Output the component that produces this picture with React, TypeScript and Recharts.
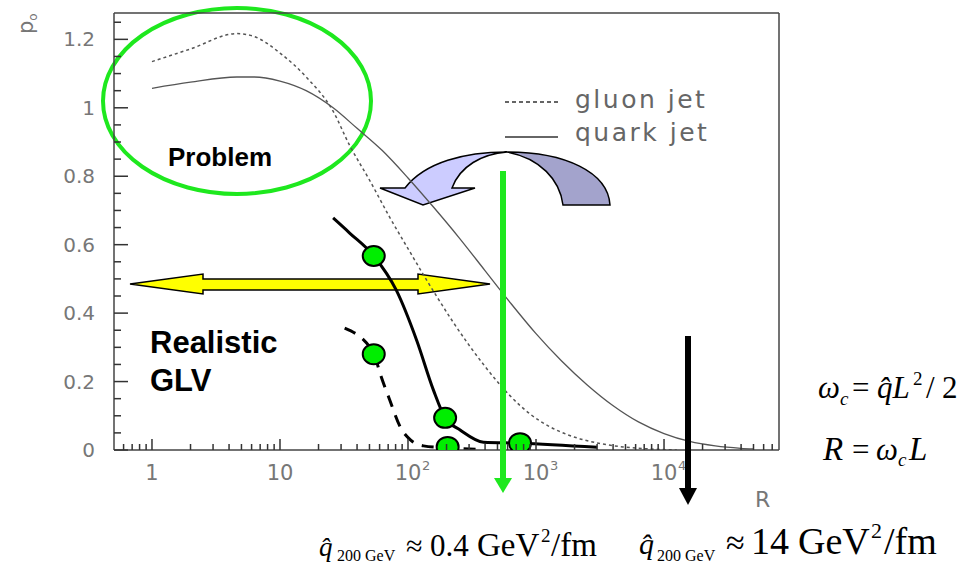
import React from "react";
import {
  ComposedChart,
  Line,
  Scatter,
  XAxis,
  YAxis,
  ReferenceLine,
} from "recharts";

// curves (R on a log axis, p0 on a linear one)
const gluonR = [1, 2, 4.6, 6.3, 10, 16, 26, 35, 50, 72, 105, 138, 170, 224, 295, 398, 525, 750, 1070, 1510, 2190, 3160, 4790, 7760, 12600];
const gluonP = [1.135, 1.172, 1.217, 1.208, 1.16, 1.09, 0.99, 0.89, 0.789, 0.68, 0.575, 0.5, 0.445, 0.375, 0.31, 0.245, 0.19, 0.13, 0.085, 0.055, 0.033, 0.019, 0.009, 0.003, 0];

const quarkR = [1, 2, 4.6, 6.3, 10, 16, 26, 40, 63, 100, 158, 251, 398, 631, 1000, 1585, 2512, 3981, 6310, 10000, 15850, 25120, 39810, 50120];
const quarkP = [1.057, 1.075, 1.09, 1.09, 1.078, 1.05, 1.0, 0.94, 0.875, 0.795, 0.71, 0.62, 0.525, 0.43, 0.34, 0.26, 0.19, 0.13, 0.082, 0.048, 0.025, 0.012, 0.005, 0.003];

const glvR = [26, 35, 54, 81, 117, 158, 195, 257, 389, 750, 3000];
const glvP = [0.678, 0.634, 0.567, 0.467, 0.32, 0.175, 0.094, 0.058, 0.023, 0.02, 0.008];

const glvDashR = [32, 54, 60, 72, 87, 105, 132, 204, 363];
const glvDashP = [0.356, 0.283, 0.228, 0.146, 0.067, 0.029, 0.012, 0.006, 0.002];

const dotR = [54, 195, 750, 54, 204];
const dotP = [0.567, 0.094, 0.02, 0.28, 0.009];

const xMajor = [1, 10, 100, 1000, 10000];
const xMajorLabel = ["1", "10", "10", "10", "10"];
const xMajorExp = ["", "", "2", "3", "4"];
const yMajor = [0, 0.2, 0.4, 0.6, 0.8, 1, 1.2];
const yMajorLabel = ["0", "0.2", "0.4", "0.6", "0.8", "1", "1.2"];

const X_DOMAIN = [0.505, 79100];
const Y_DOMAIN = [0, 1.277];

const zip = (r: number[], p: number[]) => r.map((v, i) => ({ r: v, p: p[i] }));

const gluon = zip(gluonR, gluonP);
const quark = zip(quarkR, quarkP);
const glv = zip(glvR, glvP);
const glvDash = zip(glvDashR, glvDashP);
const dots = zip(dotR, dotP);

const xTicks: number[] = [0.6, 0.7, 0.8, 0.9];
for (const d of [1, 10, 100, 1000, 10000]) {
  for (let m = 1; m <= 9; m++) {
    const v = Number((m * d).toPrecision(2));
    if (v <= 70000) xTicks.push(v);
  }
}
const yTicks: number[] = [];
for (let i = 0; i <= 25; i++) yTicks.push(Number((i * 0.05).toFixed(2)));

const AXIS = "#333";
const LABEL = "#777";
const GREEN = "#1ee81e";
const frameLine = { stroke: "#444", strokeWidth: 1.5 };

function XTick(props: any) {
  const { x, y, payload } = props;
  const i = xMajor.indexOf(payload.value);
  const major = i >= 0;
  return (
    <g>
      <line x1={x} x2={x} y1={y} y2={y - (major ? 11 : 6)} stroke={AXIS} strokeWidth={1.5} />
      {major && (
        <text x={x} y={y + 30} fill={LABEL} fontSize={21} fontFamily="DejaVu Sans" textAnchor="middle">
          {xMajorLabel[i]}
        </text>
      )}
      {major && xMajorExp[i] && (
        <text x={x + 14} y={y + 20} fill={LABEL} fontSize={13} fontFamily="DejaVu Sans">
          {xMajorExp[i]}
        </text>
      )}
    </g>
  );
}

function YTick(props: any) {
  const { x, y, payload } = props;
  const i = yMajor.indexOf(payload.value);
  const major = i >= 0;
  return (
    <g>
      <line x1={x} x2={x + (major ? 14 : 7)} y1={y} y2={y} stroke={AXIS} strokeWidth={1.5} />
      {major && (
        <text x={x - 19} y={y + 7} fill={LABEL} fontSize={20} fontFamily="DejaVu Sans" textAnchor="end">
          {yMajorLabel[i]}
        </text>
      )}
    </g>
  );
}

const Dot = (props: any) => (
  <ellipse cx={props.cx} cy={props.cy} rx={11} ry={10} fill="#00ee00" stroke="#000" strokeWidth={2} />
);

const W = 961;
const H = 566;

export default function App() {
  return (
    <div style={{ position: "absolute", left: 0, top: 0, width: W, height: H, background: "#fff" }}>
      {/* annotations behind the curves */}
      <svg width={W} height={H} style={{ position: "absolute", left: 0, top: 0 }}>
        <ellipse cx={237} cy={101} rx={134} ry={93} fill="none" stroke={GREEN} strokeWidth={4} />
        <polygon
          points="130,284 203,274 203,279 418,279 418,274 490,284 418,294 418,290 203,290 203,294"
          fill="#ffff00"
          stroke="#000"
          strokeWidth={1.5}
        />
        <path
          d="M380,188 L405,188 C425,162 465,152 507,152 C482,154 460,166 452,188 L475,188 L423,205 Z"
          fill="#ccccff"
          stroke="#000"
          strokeWidth={1.5}
        />
        <path
          d="M507,152 C565,152 608,172 610,205 L563,205 C560,180 540,158 507,152 Z"
          fill="#a3a3cc"
          stroke="#000"
          strokeWidth={1.5}
        />
      </svg>

      <div style={{ position: "absolute", left: 0, top: 0 }}>
        <ComposedChart width={W} height={H} margin={{ top: 13, right: 182, bottom: 0, left: 0 }}>
          <XAxis
            dataKey="r"
            type="number"
            scale="log"
            domain={X_DOMAIN}
            allowDataOverflow
            ticks={xTicks}
            interval={0}
            tick={<XTick />}
            tickSize={0}
            tickMargin={0}
            tickLine={false}
            axisLine={frameLine}
            height={116}
          />
          <YAxis
            dataKey="p"
            type="number"
            domain={Y_DOMAIN}
            allowDataOverflow
            ticks={yTicks}
            interval={0}
            tick={<YTick />}
            tickSize={0}
            tickMargin={0}
            tickLine={false}
            axisLine={frameLine}
            width={114}
          />
          {/* top and right sides of the frame */}
          <ReferenceLine y={Y_DOMAIN[1]} stroke="#444" strokeWidth={1.5} ifOverflow="visible" />
          <ReferenceLine x={X_DOMAIN[1]} stroke="#444" strokeWidth={1.5} ifOverflow="visible" />
          <Line data={quark} dataKey="p" type="monotone" stroke="#555" strokeWidth={1.3} dot={false} activeDot={false} isAnimationActive={false} />
          <Line data={gluon} dataKey="p" type="monotone" stroke="#555" strokeWidth={1.5} strokeDasharray="3 3" dot={false} activeDot={false} isAnimationActive={false} />
          <Line data={glvDash} dataKey="p" type="monotone" stroke="#000" strokeWidth={3} strokeDasharray="12 9" dot={false} activeDot={false} isAnimationActive={false} />
          <Line data={glv} dataKey="p" type="monotone" stroke="#000" strokeWidth={3} dot={false} activeDot={false} isAnimationActive={false} />
          <Scatter data={dots} dataKey="p" shape={<Dot />} isAnimationActive={false} />
        </ComposedChart>
      </div>

      {/* annotations in front */}
      <svg width={W} height={H} style={{ position: "absolute", left: 0, top: 0 }}>
        <line x1={503} x2={503} y1={171} y2={480} stroke={GREEN} strokeWidth={6} />
        <polygon points="494,478 512,478 503,493" fill={GREEN} />
        <line x1={688} x2={688} y1={336} y2={490} stroke="#000" strokeWidth={6} />
        <polygon points="679,488 697,488 688,505" fill="#000" />

        <text x={168} y={166} fontFamily="Liberation Sans" fontWeight="bold" fontSize={26} fill="#000">Problem</text>
        <text x={150} y={353} fontFamily="Liberation Sans" fontWeight="bold" fontSize={31} fill="#000">Realistic</text>
        <text x={150} y={391} fontFamily="Liberation Sans" fontWeight="bold" fontSize={31} fill="#000">GLV</text>

        <line x1={505} x2={558} y1={102} y2={102} stroke="#333" strokeWidth={1.3} strokeDasharray="4 3" />
        <text x={575} y={108} fontFamily="DejaVu Sans" fontSize={25} letterSpacing={2.5} fill="#666">gluon jet</text>
        <line x1={505} x2={558} y1={137} y2={137} stroke="#333" strokeWidth={1.3} />
        <text x={575} y={141} fontFamily="DejaVu Sans" fontSize={25} letterSpacing={2.5} fill="#666">quark jet</text>

        <text x={755} y={507} fontFamily="DejaVu Sans" fontSize={22} fill={LABEL}>R</text>
        <text transform="translate(33,34) rotate(-90)" fontFamily="DejaVu Sans" fontSize={21} fill={LABEL}>
          p<tspan fontSize={12} dy={4}>o</tspan>
        </text>

        <g fontFamily="Liberation Serif" fill="#000">
          <text x={818} y={398} fontSize={31} fontStyle="italic">ω</text>
          <text x={840} y={405} fontSize={19} fontStyle="italic">c</text>
          <text x={852} y={398} fontSize={31}>=</text>
          <text x={877} y={398} fontSize={31} fontStyle="italic">q̂L</text>
          <text x={913} y={385} fontSize={19}>2</text>
          <text x={926} y={398} fontSize={31}>/</text>
          <text x={942} y={398} fontSize={31}>2</text>

          <text x={823} y={460} fontSize={33} fontStyle="italic">R</text>
          <text x={852} y={460} fontSize={31}>=</text>
          <text x={876} y={460} fontSize={31} fontStyle="italic">ω</text>
          <text x={898} y={466} fontSize={19} fontStyle="italic">c</text>
          <text x={909} y={460} fontSize={33} fontStyle="italic">L</text>

          <text x={319} y={556} fontSize={27} fontStyle="italic">q̂</text>
          <text x={337} y={561} fontSize={16}>200 GeV</text>
          <text x={406} y={556} fontSize={30}>≈</text>
          <text x={430} y={556} fontSize={31}>0.4</text>
          <text x={477} y={556} fontSize={33}>GeV</text>
          <text x={541} y={542} fontSize={19}>2</text>
          <text x={551} y={556} fontSize={33}>/fm</text>

          <text x={639} y={554} fontSize={30} fontStyle="italic">q̂</text>
          <text x={657} y={561} fontSize={16}>200 GeV</text>
          <text x={726} y={554} fontSize={34}>≈</text>
          <text x={751} y={554} fontSize={38}>14</text>
          <text x={798} y={554} fontSize={38}>GeV</text>
          <text x={871} y={538} fontSize={22}>2</text>
          <text x={884} y={554} fontSize={38}>/fm</text>
        </g>
      </svg>
    </div>
  );
}
